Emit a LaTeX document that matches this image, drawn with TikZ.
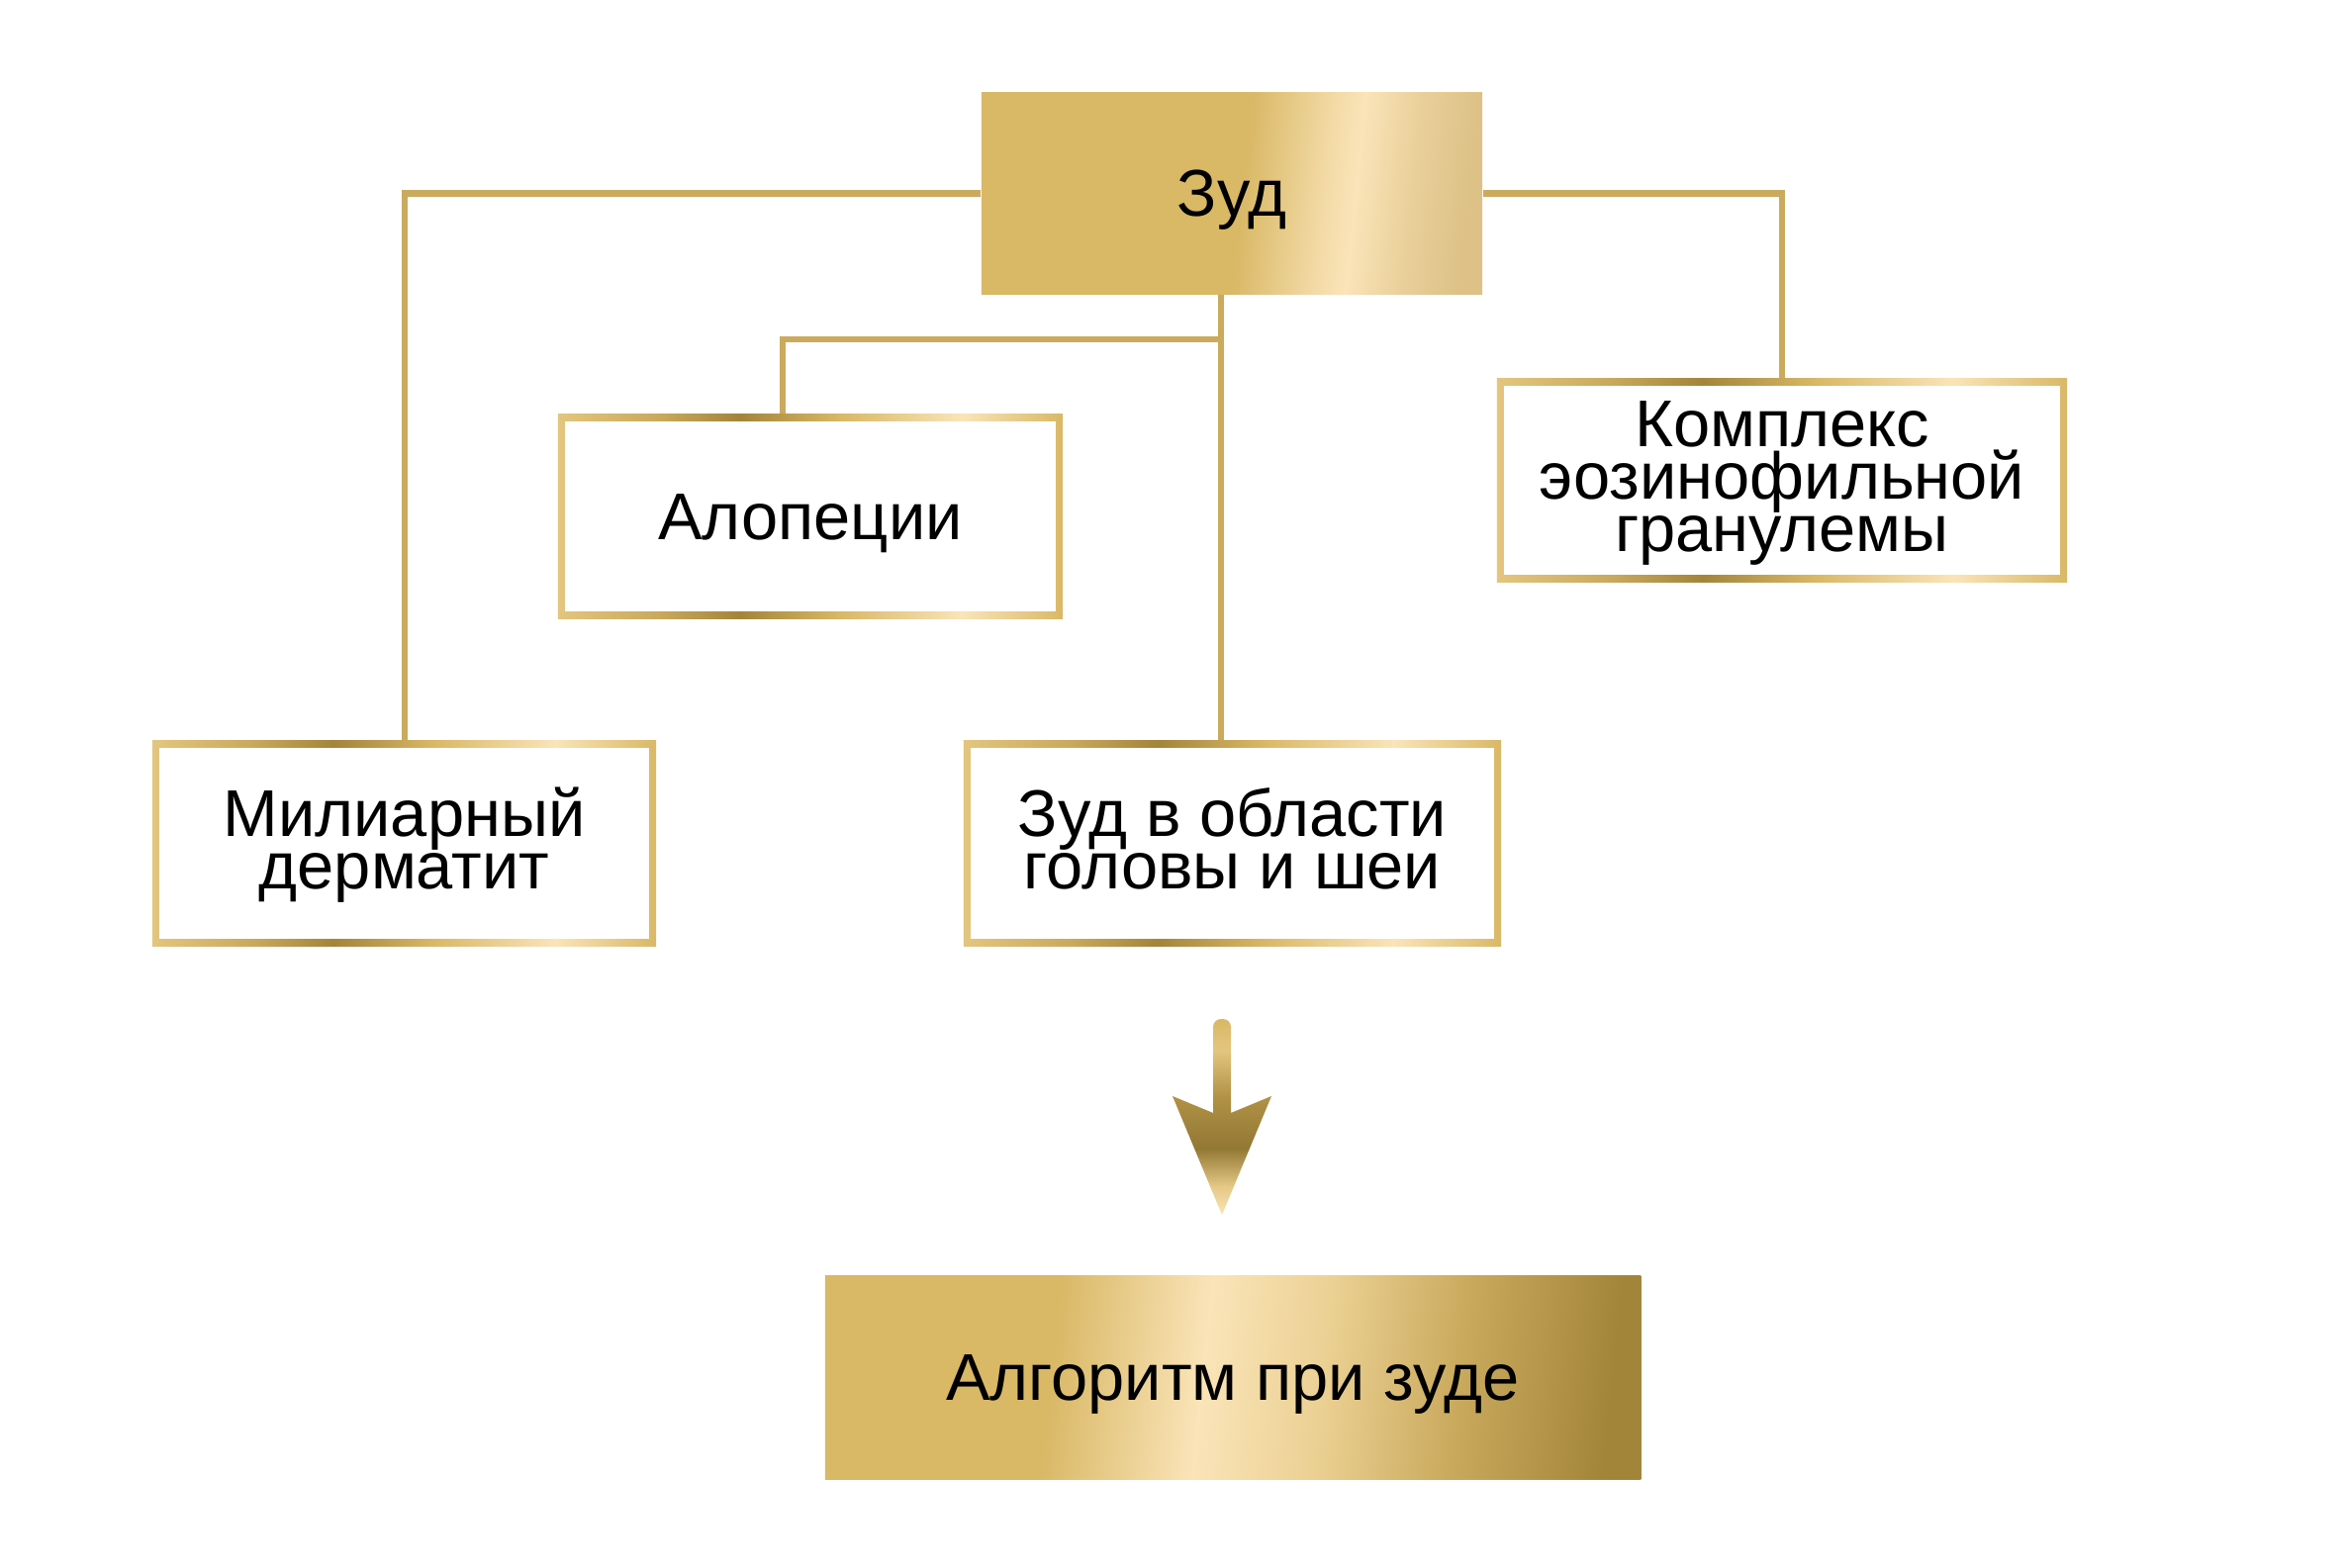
\documentclass[tikz,border=0pt]{standalone}
\usepackage{fontspec}
\setmainfont{Liberation Sans}
\definecolor{gA}{HTML}{D9B866}
\definecolor{gL}{HTML}{FAE4B8}
\definecolor{gD}{HTML}{A3853A}
\definecolor{gM}{HTML}{C9A95C}
\definecolor{gR}{HTML}{DDC186}
\definecolor{lineg}{HTML}{CBAA5E}
% path bounding box maps to 25bp..75bp of the shading
\pgfdeclarehorizontalshading{goldtop}{100bp}{color(0bp)=(gA); color(51bp)=(gA); color(60bp)=(gL!80!gA); color(63bp)=(gL); color(69bp)=(gR!60!gL); color(75bp)=(gR); color(100bp)=(gR)}
\pgfdeclarehorizontalshading{goldalg}{100bp}{color(0bp)=(gA); color(38bp)=(gA); color(48bp)=(gL); color(56bp)=(gL!55!gA); color(65bp)=(gM); color(75bp)=(gD); color(100bp)=(gD)}
\pgfdeclarehorizontalshading{goldframe}{100bp}{color(0bp)=(gA!70!gL); color(25bp)=(gA!70!gL); color(35bp)=(gM); color(43bp)=(gD); color(53bp)=(gA); color(65bp)=(gL); color(75bp)=(gA); color(100bp)=(gA)}
\pgfdeclareverticalshading{goldarrow}{100bp}{color(0bp)=(gL); color(25bp)=(gL); color(32bp)=(gA!60!gL); color(42bp)=(gD!90!black); color(55bp)=(gD!75!gA); color(67bp)=(gA!70!gL); color(75bp)=(gA); color(100bp)=(gA)}
\newcommand\tophi{\rule{0pt}{0.905em}}
\newcommand\botde{\rule[-0.212em]{0pt}{0pt}}
\newcommand\botdm{\rule[-0.33em]{0pt}{0pt}}
\begin{document}
\begin{tikzpicture}[x=0.01cm,y=-0.01cm,
  txt/.style={align=center,font=\fontsize{19pt}{15pt}\selectfont,text=black,inner sep=0pt},
  solidbox/.style={txt,rectangle,shading=#1,shading angle=-6},
  framebox/.style={txt,rectangle,shading=goldframe,shading angle=0,
    path picture={\fill[white] ([shift={(0.07cm,0.07cm)}]path picture bounding box.south west) rectangle ([shift={(-0.07cm,-0.07cm)}]path picture bounding box.north east);}},
  conn/.style={draw=lineg,line width=0.06cm}]
\useasboundingbox (0,0) rectangle (2372,1585);
\fill[white] (0,0) rectangle (2372,1585);

\node[solidbox=goldtop,minimum width=5.06cm,minimum height=2.03cm] (zud) at (1245,195.5) {\tophi Зуд\botde};
\node[framebox,minimum width=5.10cm,minimum height=2.06cm] (alop) at (819,522) {\tophi Алопеции\botde};
\node[framebox,minimum width=5.76cm,minimum height=2.05cm] (kompl) at (1801,485.5) {\tophi Комплекс\\эозинофильной\\гранулемы\botdm};
\node[framebox,minimum width=5.09cm,minimum height=2.07cm] (mil) at (408.5,852.5) {\tophi Милиарный\\дерматит\botdm};
\node[framebox,minimum width=5.43cm,minimum height=2.07cm] (zvo) at (1245.5,852.5) {\tophi Зуд в области\\головы и шеи\botdm};
\node[solidbox=goldalg,minimum width=8.24cm,minimum height=2.05cm] (alg) at (1246,1392.5) {\tophi Алгоритм при зуде\botde};

\coordinate (cx) at (1234,0);
\coordinate (bx) at (791,343);
\draw[conn] (zud.west) -| (mil.north);
\draw[conn] (zud.east) -| (kompl.north);
\draw[conn] (zud.south -| cx) -- (zvo.north -| cx);
\draw[conn] (bx -| cx) -- (bx) -- (bx |- alop.north);

\shade[shading=goldarrow] (1185,1108) -- (1226,1125) [rounded corners=0.08cm]-- (1226,1030) -- (1244,1030) [sharp corners]-- (1244,1125) -- (1285,1108) -- (1235,1228) -- cycle;
\end{tikzpicture}
\end{document}
